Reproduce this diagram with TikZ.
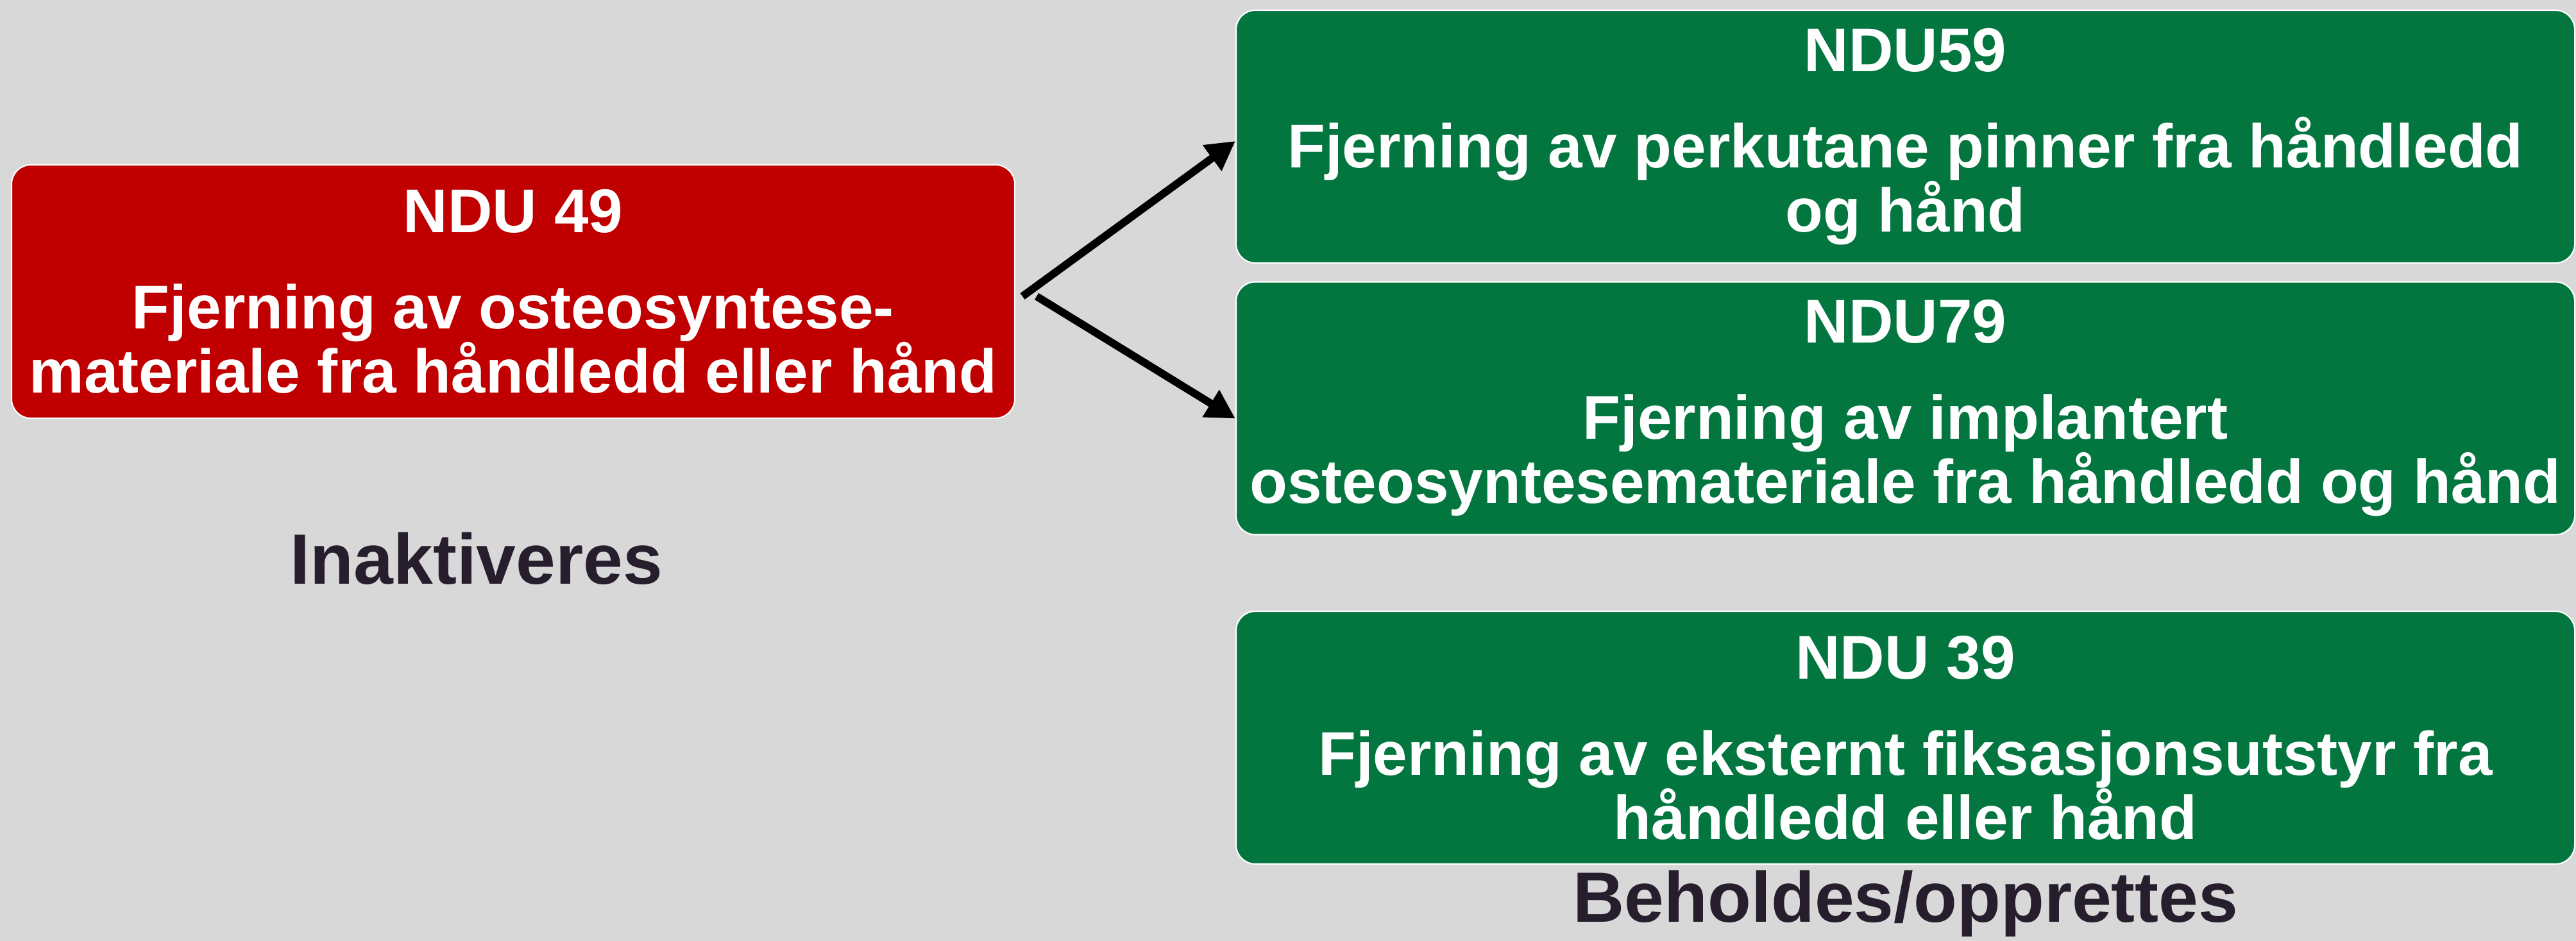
\documentclass[tikz,border=0pt]{standalone}
\usepackage{fontspec}
\setmainfont{Liberation Sans}
\usetikzlibrary{arrows.meta}
\definecolor{bggray}{RGB}{216,216,216}
\definecolor{ndured}{RGB}{192,0,0}
\definecolor{ndugreen}{RGB}{3,118,64}
\definecolor{labeldark}{RGB}{38,30,45}
\tikzset{codebox/.style={rounded corners=0.3cm, draw=white, line width=0.6pt, text=white, font=\bfseries\fontsize{27.4}{28.45}\selectfont, align=center, inner sep=0pt}}
\tikzset{oldcode/.style={codebox, fill=ndured, minimum width=15.64cm, minimum height=3.95cm}}
\tikzset{newcode/.style={codebox, fill=ndugreen, minimum width=20.87cm, minimum height=3.94cm}}
\tikzset{statuslabel/.style={text=labeldark, font=\bfseries\fontsize{31.6}{34}\selectfont, inner sep=0pt}}
\tikzset{maparrow/.style={-{Triangle[length=0.45cm,width=0.47cm]}, line width=0.12cm}}

\begin{document}
\begin{tikzpicture}

\useasboundingbox (0,0) rectangle (40.16,-14.67);
\fill[bggray] (0,0) rectangle (40.16,-14.67);

\node[oldcode] (ndu49) at (8.00,-4.545) {NDU 49\\[0.5cm] Fjerning av osteosyntese-\\materiale fra håndledd eller hånd};

\node[newcode] (ndu59) at (29.705,-2.13) {NDU59\\[0.5cm] Fjerning av perkutane pinner fra håndledd\\og hånd};
\node[newcode] (ndu79) at (29.705,-6.365) {NDU79\\[0.5cm] Fjerning av implantert\\osteosyntesemateriale fra håndledd og hånd};
\node[newcode] (ndu39) at (29.705,-11.50) {NDU 39\\[0.5cm] Fjerning av eksternt fiksasjonsutstyr fra\\håndledd eller hånd};

\node[statuslabel] (inaktiv) at (7.43,-8.71) {Inaktiveres};
\node[statuslabel] (behold) at (29.71,-14.09) {Beholdes/opprettes};

%\draw[dotted] (ndu49.east) -- (ndu79.west);

\coordinate (from1) at ([shift={(0.11,-0.075)}]ndu49.east);
\coordinate (from2) at ([shift={(0.33,-0.075)}]ndu49.east);

\draw[maparrow] (from1) -- ([yshift=-0.07cm]ndu59.west);
\draw[maparrow] (from2) -- ([yshift=-0.16cm]ndu79.west);

\end{tikzpicture}
\end{document}
